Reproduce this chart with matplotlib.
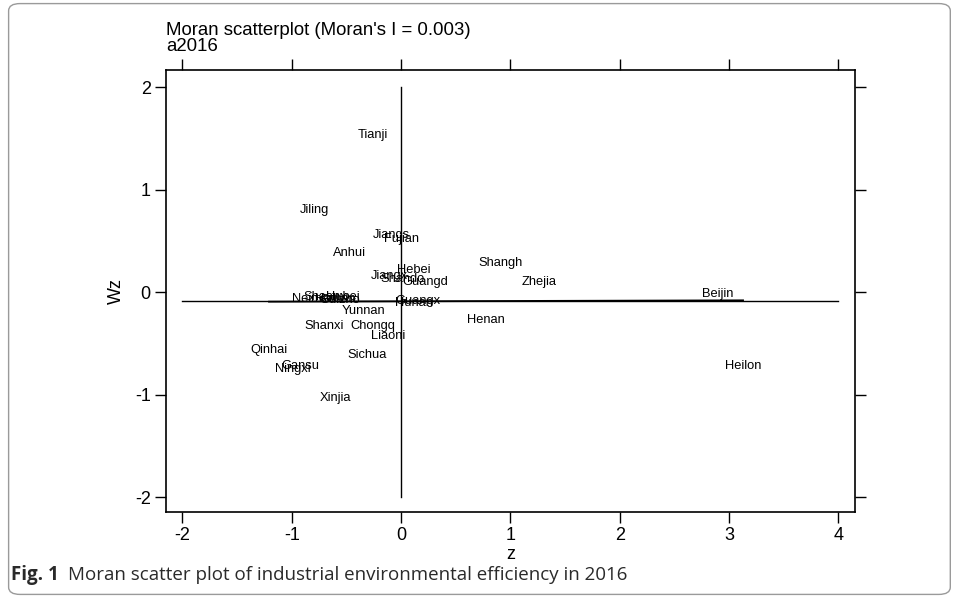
import matplotlib.pyplot as plt
from matplotlib.patches import FancyBboxPatch

# province labels (truncated as in the original) with z and Wz values
names = ["Tianji", "Jiling", "Jiangs", "Fujian", "Anhui", "Shangh", "Hebei",
         "Jiangx", "Shando", "Guangd", "Zhejia", "Beijin", "Neimen", "Shaanx",
         "Hubei", "Guizho", "Hainan", "Guangx", "Hunan", "Yunnan", "Henan",
         "Shanxi", "Chongq", "Liaoni", "Qinhai", "Sichua", "Gansu", "Ningxi",
         "Heilon", "Xinjia"]
z = [-0.256, -0.796, -0.091, 0.000, -0.476, 0.906, 0.119,
     -0.110, 0.018, 0.220, 1.263, 2.901, -0.796, -0.695,
     -0.530, -0.558, -0.604, 0.155, 0.119, -0.348, 0.778,
     -0.705, -0.256, -0.119, -1.208, -0.311, -0.924, -0.988,
     3.129, -0.604]
wz = [1.532, 0.800, 0.556, 0.517, 0.380, 0.283, 0.215,
      0.156, 0.127, 0.098, 0.098, -0.020, -0.068, -0.049,
      -0.049, -0.078, -0.068, -0.088, -0.107, -0.185, -0.273,
      -0.332, -0.332, -0.429, -0.566, -0.615, -0.722, -0.751,
      -0.722, -1.034]

MORAN_I = 0.003
WZ_MEAN = -0.09          # level of the horizontal reference line
X_TICKS = [-2, -1, 0, 1, 2, 3, 4]
Y_TICKS = [-2, -1, 0, 1, 2]

fig = plt.figure(figsize=(9.57, 5.98), dpi=100)
font = ["Liberation Sans", "DejaVu Sans"]

# rounded panel border
border = FancyBboxPatch((0.009, 0.006), 0.984, 0.988,
                        boxstyle="round,pad=0,rounding_size=0.012",
                        transform=fig.transFigure, fill=False,
                        edgecolor="#9a9a9a", linewidth=1.0)
fig.patches.append(border)

ax = fig.add_axes([0.1735, 0.1438, 0.720, 0.739])

# reference lines
ax.plot([X_TICKS[0], X_TICKS[-1]], [WZ_MEAN, WZ_MEAN], color="black", lw=1.0)
ax.plot([0, 0], [Y_TICKS[0], Y_TICKS[-1]], color="black", lw=1.0)
zmin, zmax = min(z), max(z)
ax.plot([zmin, zmax], [WZ_MEAN + MORAN_I * zmin, WZ_MEAN + MORAN_I * zmax],
        color="black", lw=1.3)

# labels centred on each point
for name, xv, yv in zip(names, z, wz):
    ax.text(xv, yv, name, ha="center", va="center", fontsize=9.3,
            family=font)

ax.set_xlim(-2.150, 4.154)
ax.set_ylim(-2.146, 2.166)
ax.set_xticks(X_TICKS)
ax.set_yticks(Y_TICKS)
ax.set_xticklabels([str(t) for t in X_TICKS], family=font, fontsize=13)
ax.set_yticklabels([str(t) for t in Y_TICKS], family=font, fontsize=13)
ax.tick_params(direction="out", length=8, width=1.0, top=True, right=True,
               pad=3)
for s in ax.spines.values():
    s.set_linewidth(1.2)

ax.set_xlabel("z", family=font, fontsize=13, labelpad=1)
ax.set_ylabel("Wz", family=font, fontsize=13, labelpad=7)

fig.text(166 / 957, 1 - 22 / 598, "Moran scatterplot (Moran's I = 0.003)\na2016",
         ha="left", va="top", family=font, fontsize=13.4, linespacing=0.92)

# caption
fig.text(0.011, 1 - 575 / 598, "Fig. 1", ha="left", va="center",
         fontsize=13.5, fontweight="bold", family=["Open Sans", "DejaVu Sans"],
         color="#2a2a2a")
fig.text(0.071, 1 - 575 / 598,
         "Moran scatter plot of industrial environmental efficiency in 2016",
         ha="left", va="center", fontsize=13.5,
         family=["Open Sans", "DejaVu Sans"], color="#2a2a2a")

fig.savefig("out.png", dpi=100)
